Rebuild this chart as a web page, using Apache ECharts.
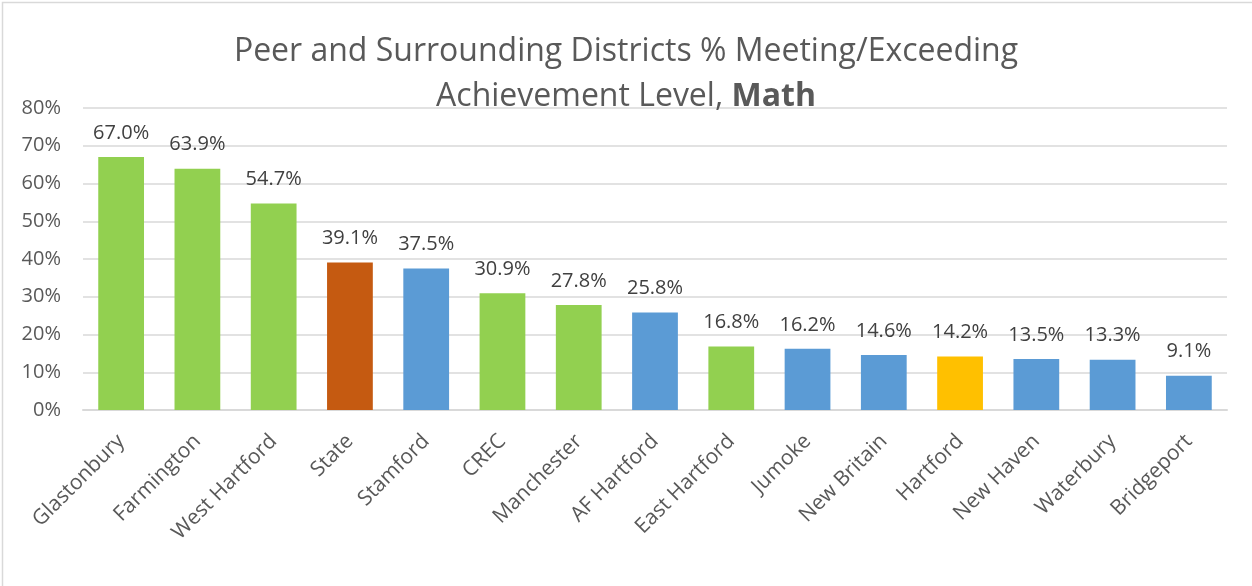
<!DOCTYPE html>
<html>
<head>
<meta charset="utf-8">
<script src="https://cdn.jsdelivr.net/npm/echarts@6/dist/echarts.min.js"></script>
<style>
  html, body { margin: 0; padding: 0; background: #fff; }
  #chart { width: 1252px; height: 586px; }
</style>
</head>
<body>
<div id="chart"></div>
<script>
  // categories and values
  var districts = ['Glastonbury', 'Farmington', 'West Hartford', 'State', 'Stamford', 'CREC', 'Manchester',
    'AF Hartford', 'East Hartford', 'Jumoke', 'New Britain', 'Hartford', 'New Haven', 'Waterbury', 'Bridgeport'];
  var pctMeeting = [67.0, 63.9, 54.7, 39.1, 37.5, 30.9, 27.8, 25.8, 16.8, 16.2, 14.6, 14.2, 13.5, 13.3, 9.1];
  // which group each bar belongs to (decides its colour)
  var groups = ['peer', 'peer', 'peer', 'state', 'other', 'peer', 'peer',
    'other', 'peer', 'other', 'other', 'home', 'other', 'other', 'other'];
  var yTicks = [0, 10, 20, 30, 40, 50, 60, 70, 80];

  var groupColor = {
    peer: '#92D050',
    state: '#C55A11',
    other: '#5B9BD5',
    home: '#FFC000'
  };
  var font = '"Open Sans", "DejaVu Sans", sans-serif';

  var barData = pctMeeting.map(function (v, i) {
    return { value: v, itemStyle: { color: groupColor[groups[i]] } };
  });

  var chart = echarts.init(document.getElementById('chart'));
  var option = {
    animation: false,
    backgroundColor: '#fff',
    title: {
      text: 'Peer and Surrounding Districts % Meeting/Exceeding\nAchievement Level, {b|Math}',
      left: 'center',
      top: 24,
      textStyle: {
        fontFamily: font,
        fontSize: 32,
        fontWeight: 'normal',
        color: '#595959',
        lineHeight: 45,
        rich: {
          b: { fontFamily: font, fontSize: 32, fontWeight: 'bold', color: '#595959', lineHeight: 45 }
        }
      }
    },
    graphic: [{
      type: 'rect',
      shape: { x: 2.5, y: 2.5, width: 1260, height: 600 },
      style: { fill: 'none', stroke: '#d9d9d9', lineWidth: 1.5 },
      silent: true
    }],
    grid: {
      left: 83,
      right: 25,
      top: 108,
      bottom: 176
    },
    xAxis: {
      type: 'category',
      data: districts,
      axisTick: { show: false },
      axisLine: { lineStyle: { color: '#d9d9d9', width: 2 } },
      axisLabel: {
        interval: 0,
        rotate: 45,
        margin: 28,
        fontFamily: font,
        fontSize: 21,
        color: '#595959'
      }
    },
    yAxis: {
      type: 'value',
      min: yTicks[0],
      max: yTicks[yTicks.length - 1],
      interval: yTicks[1] - yTicks[0],
      axisLine: { show: false },
      axisTick: { show: false },
      axisLabel: {
        formatter: '{value}%',
        margin: 22,
        fontFamily: font,
        fontSize: 20,
        color: '#595959'
      },
      splitLine: { lineStyle: { color: '#d9d9d9', width: 1.5 } }
    },
    series: [{
      type: 'bar',
      data: barData,
      barCategoryGap: '40%',
      label: {
        show: true,
        position: 'top',
        distance: 14,
        fontFamily: font,
        fontSize: 20,
        color: '#404040',
        formatter: function (p) { return p.value.toFixed(1) + '%'; }
      }
    }]
  };
  chart.setOption(option);
</script>
</body>
</html>
